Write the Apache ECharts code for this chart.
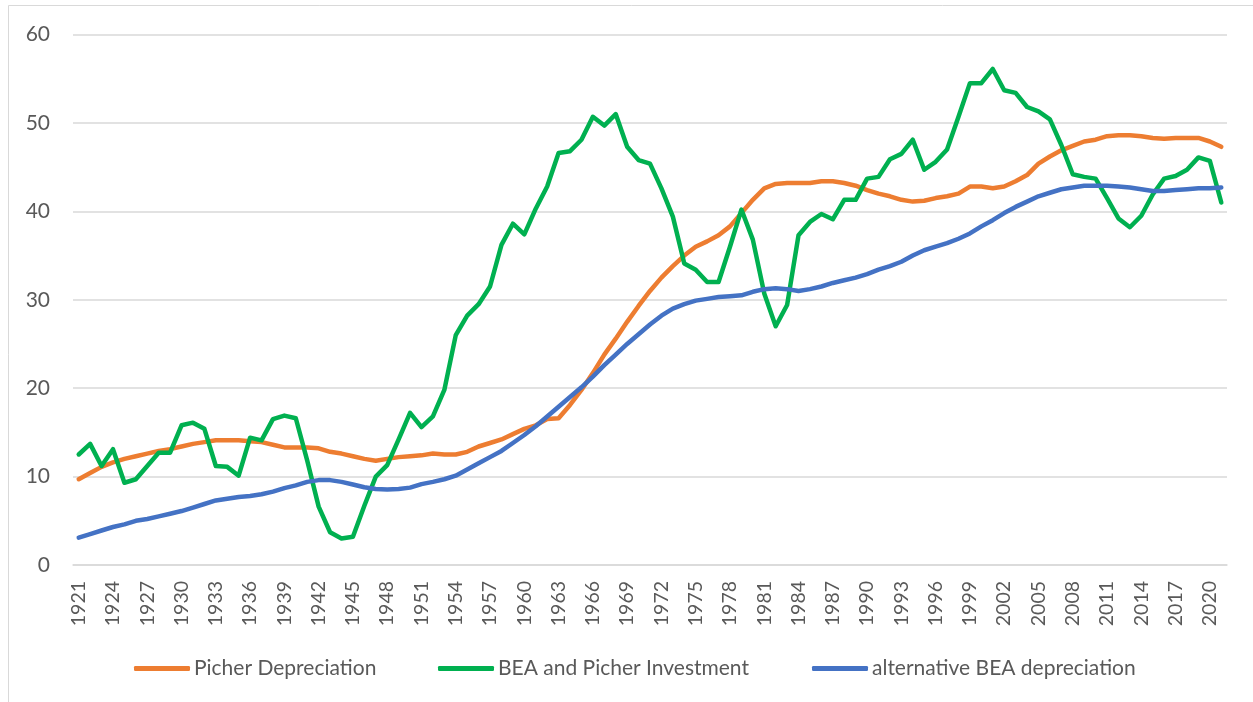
<!DOCTYPE html>
<html>
<head>
<meta charset="utf-8">
<title>Depreciation and investment</title>
<script src="https://cdn.jsdelivr.net/npm/echarts@6.0.0/dist/echarts.min.js"></script>
<style>
  html, body { margin: 0; padding: 0; background: #fff; }
  #chart { width: 1253px; height: 702px; }
</style>
</head>
<body>
<div id="chart"></div>
<script>
// years 1921 - 2021
const years = []
for (let y = 1921; y <= 2021; y++) years.push(String(y))

const picherDepreciation = [
  9.7, 10.4, 11.1, 11.6, 12.0, 12.3, 12.6, 12.9, 13.1, 13.4,
  13.7, 13.9, 14.1, 14.1, 14.1, 14.0, 13.9, 13.6, 13.3, 13.3,
  13.3, 13.2, 12.8, 12.6, 12.3, 12.0, 11.8, 12.0, 12.2, 12.3,
  12.4, 12.6, 12.5, 12.5, 12.8, 13.4, 13.8, 14.2, 14.8, 15.4,
  15.8, 16.5, 16.6, 18.1, 19.8, 21.7, 23.8, 25.6, 27.5, 29.3,
  31.0, 32.5, 33.8, 35.0, 36.0, 36.6, 37.3, 38.3, 39.8, 41.3,
  42.6, 43.1, 43.2, 43.2, 43.2, 43.4, 43.4, 43.2, 42.9, 42.4,
  42.0, 41.7, 41.3, 41.1, 41.2, 41.5, 41.7, 42.0, 42.8, 42.8,
  42.6, 42.8, 43.4, 44.1, 45.4, 46.2, 46.9, 47.4, 47.9, 48.1,
  48.5, 48.6, 48.6, 48.5, 48.3, 48.2, 48.3, 48.3, 48.3, 47.9,
  47.3
]

const beaPicherInvestment = [
  12.5, 13.7, 11.2, 13.1, 9.3, 9.7, 11.2, 12.7, 12.7, 15.8,
  16.1, 15.4, 11.2, 11.1, 10.1, 14.4, 14.1, 16.5, 16.9, 16.6,
  11.8, 6.6, 3.7, 3.0, 3.2, 6.7, 10.0, 11.3, 14.2, 17.2,
  15.6, 16.8, 19.8, 26.0, 28.2, 29.5, 31.5, 36.2, 38.6, 37.4,
  40.3, 42.8, 46.6, 46.8, 48.1, 50.7, 49.7, 51.0, 47.3, 45.8,
  45.4, 42.6, 39.4, 34.1, 33.4, 32.0, 32.0, 36.0, 40.2, 36.8,
  30.7, 27.0, 29.4, 37.3, 38.8, 39.7, 39.1, 41.3, 41.3, 43.7,
  43.9, 45.9, 46.5, 48.1, 44.7, 45.6, 47.0, 50.7, 54.5, 54.5,
  56.1, 53.7, 53.4, 51.8, 51.3, 50.4, 47.5, 44.2, 43.9, 43.7,
  41.5, 39.2, 38.2, 39.5, 41.9, 43.7, 44.0, 44.7, 46.1, 45.7,
  41.0
]

const altBeaDepreciation = [
  3.1, 3.5, 3.9, 4.3, 4.6, 5.0, 5.2, 5.5, 5.8, 6.1,
  6.5, 6.9, 7.3, 7.5, 7.7, 7.8, 8.0, 8.3, 8.7, 9.0,
  9.4, 9.6, 9.6, 9.4, 9.1, 8.8, 8.6, 8.55, 8.6, 8.75,
  9.15, 9.4, 9.7, 10.1, 10.8, 11.5, 12.2, 12.9, 13.8, 14.7,
  15.7, 16.8, 17.9, 19.0, 20.1, 21.3, 22.6, 23.8, 25.0, 26.1,
  27.2, 28.2, 29.0, 29.5, 29.9, 30.1, 30.3, 30.4, 30.5, 30.9,
  31.2, 31.3, 31.2, 31.0, 31.2, 31.5, 31.9, 32.2, 32.5, 32.9,
  33.4, 33.8, 34.3, 35.0, 35.6, 36.0, 36.4, 36.9, 37.5, 38.3,
  39.0, 39.8, 40.5, 41.1, 41.7, 42.1, 42.5, 42.7, 42.9, 42.9,
  42.9, 42.8, 42.7, 42.5, 42.3, 42.3, 42.4, 42.5, 42.6, 42.6,
  42.7
]

const seriesNames = ['Picher Depreciation', 'BEA and Picher Investment', 'alternative BEA depreciation']
const seriesColors = ['#ED7D31', '#00B050', '#4472C4']
// left edge of each legend entry
const legendLefts = [129, 433, 807]

const chart = echarts.init(document.getElementById('chart'))

function lineSeries(i, data) {
  return {
    name: seriesNames[i],
    type: 'line',
    data: data,
    symbol: 'none',
    smooth: false,
    itemStyle: { color: seriesColors[i] },
    lineStyle: { width: 4.5, color: seriesColors[i], cap: 'round', join: 'round' }
  }
}

// one legend per entry so every item sits where it does in the original
const legends = seriesNames.map((name, i) => ({
  data: [name],
  left: legendLefts[i],
  top: 653,
  itemWidth: 56,
  itemHeight: 5,
  icon: 'roundRect',
  textStyle: { color: '#595959', fontSize: 21, fontFamily: 'Lato, sans-serif', padding: [0, 0, 0, -1] }
}))

const option = {
  backgroundColor: '#fff',
  animation: false,
  textStyle: { fontFamily: 'Lato, "Open Sans", sans-serif' },
  graphic: [
    {
      type: 'rect',
      shape: { x: 8.5, y: 5.5, width: 1400, height: 900 },
      style: { fill: null, stroke: '#d9d9d9', lineWidth: 1 },
      silent: true
    }
  ],
  grid: { left: 73, right: 26, top: 34.5, bottom: 137 },
  legend: legends,
  xAxis: {
    type: 'category',
    data: years,
    boundaryGap: true,
    axisLine: { lineStyle: { color: '#d9d9d9', width: 1.5 } },
    axisTick: { show: false },
    axisLabel: {
      interval: 2,
      rotate: 90,
      margin: 16,
      color: '#595959',
      fontSize: 19.5,
      fontFamily: 'Lato, sans-serif'
    },
    splitLine: { show: false }
  },
  yAxis: {
    type: 'value',
    min: 0,
    max: 60,
    interval: 10,
    axisLine: { show: false },
    axisTick: { show: false },
    axisLabel: { color: '#595959', fontSize: 21, margin: 23, fontFamily: 'Lato, sans-serif' },
    splitLine: { lineStyle: { color: '#d9d9d9', width: 1.5 } }
  },
  series: [
    lineSeries(0, picherDepreciation),
    lineSeries(1, beaPicherInvestment),
    lineSeries(2, altBeaDepreciation)
  ]
}

chart.setOption(option)

window.addEventListener('resize', () => {
  chart.resize()
})
</script>
</body>
</html>
